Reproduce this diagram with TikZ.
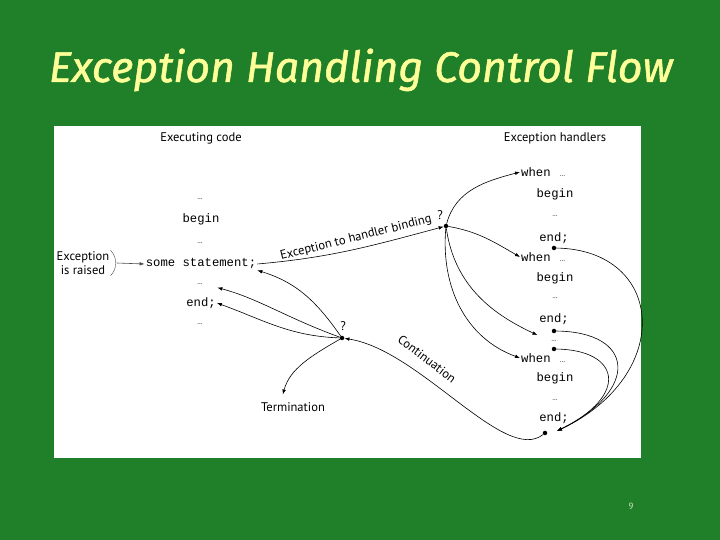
\documentclass[tikz,border=0pt]{standalone}
\usepackage{fontspec}
\usetikzlibrary{arrows.meta,positioning}
\newfontfamily\titlefont{Fira Sans}[FakeBold=1.2]
\newfontfamily\labelfont{PT Sans}
\newfontfamily\codefont{Liberation Mono}
\definecolor{slidegreen}{RGB}{31,128,41}
\definecolor{titleyellow}{RGB}{255,255,153}
\definecolor{pagecol}{RGB}{215,235,200}
\newcommand{\dts}{{\labelfont\fontsize{7}{8}\selectfont\hspace{2bp}…}}

\begin{document}
\begin{tikzpicture}[x=1bp, y=1bp,
  lbl/.style={font=\labelfont\fontsize{12.6}{14}\selectfont, inner sep=1bp},
  code/.style={font=\codefont\fontsize{12.3}{14}\selectfont, inner sep=1bp},
  dts/.style={font=\labelfont\fontsize{7}{8}\selectfont, inner sep=1bp},
  dot/.style={circle, fill=black, inner sep=0pt, minimum size=4.5bp},
  flow/.style={-{Latex[length=5bp,width=3.6bp]}, line width=0.6bp}]
  \useasboundingbox (0,0) rectangle (720,540);
  % 背景
  \fill[slidegreen] (0,0) rectangle (720,540);
  \fill[white] (54,82) rectangle (641,414);

  % 标题
  \node[anchor=base, text=titleyellow, font=\titlefont\itshape\fontsize{43}{50}\selectfont] (title) at (361,458) {Exception Handling Control Flow};
  \node[text=pagecol, font=\labelfont\fontsize{9}{10}\selectfont] (pnum) at (631,34) {9};

  % 栏标题
  \node[lbl] (exec) at (201,402) {Executing code};
  \node[lbl] (hand) at (555,402) {Exception handlers};

  % 执行代码
  \node[dts] (l1) at (200,341) {…};
  \node[code] (lbegin) at (201,321) {begin};
  \node[dts] (l2) at (200,297) {…};
  \node[code] (stmt) at (201,276) {some statement;};
  \node[dts] (l3) at (200,256) {…};
  \node[code] (lend) at (201,237) {end;};
  \node[dts] (l4) at (200,216) {…};

  % 异常抛出
  \node[lbl, align=center, font=\labelfont\fontsize{12.6}{14}\selectfont] (raised) at (83,277) {Exception\\is raised};
  \draw[gray!60!black] (raised.north east) .. controls +(7,-7) and +(7,7) .. (raised.south east);
  \draw[flow, gray!60!black] ([xshift=6bp]raised.east) -- (stmt.west);

  % 处理程序
  \node[code, anchor=west] (w1) at (520,368) {when \dts};
  \node[code] (hb1) at (555,346) {begin};
  \node[dts] (hd1) at (555,324) {…};
  \node[code] (he1) at (554,302) {end;};
  \node[dot] (e1) at (554,292) {};
  \node[code, anchor=west] (w2) at (520,283) {when \dts};
  \node[code] (hb2) at (555,262) {begin};
  \node[dts] (hd2) at (555,242) {…};
  \node[code] (he2) at (554,221) {end;};
  \node[dot] (e2) at (554,209) {};
  \node[dts] (hgap) at (554,199) {…};
  \node[dot] (e3) at (554,191) {};
  \node[code, anchor=west] (w3) at (520,182) {when \dts};
  \node[code] (hb3) at (555,162) {begin};
  \node[dts] (hd3) at (555,140) {…};
  \node[code] (he3) at (554,122) {end;};
  \node[dot] (ret) at (545,107) {};
  \coordinate (back) at (557,109);

  % 绑定
  \node[dot] (bind) at (446,314) {};
  \node[lbl] (q1) at (440,325) {?};
  \draw[flow] (stmt.east) to[out=5,in=195] (bind);
  \node[lbl, rotate=14] (bindlbl) at (356,302) {Exception to handler binding};
  \draw[flow] (bind) to[out=75,in=195] (w1.west);
  \draw[flow] (bind) to[out=-10,in=150] (w2.west);
  \draw[flow, shorten >=14bp] (bind) to[out=-82,in=155] (hgap.west);
  \draw[flow] (bind) to[out=-95,in=160] (w3.west);

  % 返回
  \draw[flow] (e1) .. controls (665,290) and (675,165) .. (back);
  \draw[flow] (e2) .. controls (635,208) and (640,150) .. (back);
  \draw[flow] (e3) .. controls (620,190) and (630,145) .. (back);

  % 继续 / 终止
  \node[dot] (cont) at (342,202) {};
  \node[lbl] (q2) at (343,214) {?};
  \draw[flow] (ret) .. controls (505,75) and (420,190) .. (cont);
  \node[lbl, rotate=-37] (contlbl) at (427,181) {Continuation};
  \draw[flow] (cont) to[out=125,in=-17] (stmt.south east);
  \draw[flow, shorten >=14bp] (cont) to[out=160,in=-15] (l3.east);
  \draw[flow] (cont) to[out=178,in=-20] (lend.east);
  \node[lbl] (term) at (293,133) {Termination};
  \draw[flow, shorten >=7bp] (cont) to[out=210,in=75] ([xshift=-12bp]term.north);
\end{tikzpicture}
\end{document}
